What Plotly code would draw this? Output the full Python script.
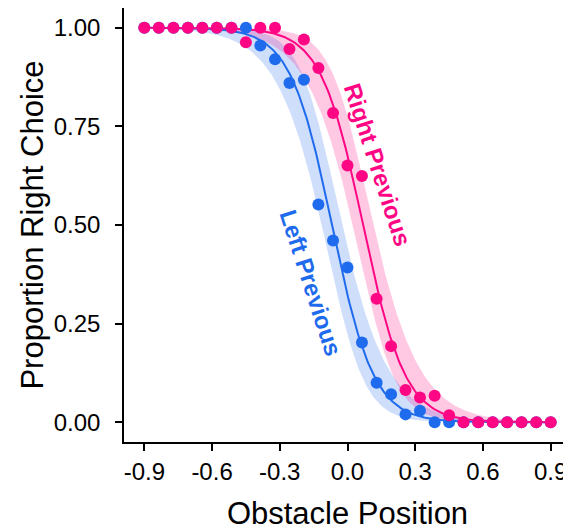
import numpy as np
import plotly.graph_objects as go

# ---- data ----
obstacle_x = [-0.900, -0.836, -0.771, -0.707, -0.643, -0.579, -0.514, -0.450,
              -0.386, -0.321, -0.257, -0.193, -0.129, -0.064, 0.000, 0.064,
              0.129, 0.193, 0.257, 0.321, 0.386, 0.450, 0.514, 0.579,
              0.643, 0.707, 0.771, 0.836, 0.900]
left_prev = [1.00, 1.00, 1.00, 1.00, 1.00, 1.00, 1.00, 1.00,
             0.955, 0.92, 0.86, 0.868, 0.552, 0.461, 0.392, 0.202,
             0.10, 0.071, 0.02, 0.029, 0.0, 0.0, 0.0, 0.0,
             0.0, 0.0, 0.0, 0.0, 0.0]
right_prev = [1.00, 1.00, 1.00, 1.00, 1.00, 1.00, 1.00, 0.963,
              1.00, 1.00, 0.946, 0.97, 0.898, 0.784, 0.651, 0.624,
              0.313, 0.193, 0.082, 0.063, 0.067, 0.018, 0.0, 0.0,
              0.0, 0.0, 0.0, 0.0, 0.0]
trials_per_point = 12
x_ticks = [-0.9, -0.6, -0.3, 0.0, 0.3, 0.6, 0.9]
x_tick_text = ["-0.9", "-0.6", "-0.3", "0.0", "0.3", "0.6", "0.9"]
y_ticks = [0.0, 0.25, 0.5, 0.75, 1.0]
y_tick_text = ["0.00", "0.25", "0.50", "0.75", "1.00"]

BLUE = "#1F6BEE"
PINK = "#FF0784"
BLUE_FILL = "rgba(31,107,238,0.22)"
PINK_FILL = "rgba(255,7,132,0.22)"


def sigmoid(v):
    return 1.0 / (1.0 + np.exp(-v))


def glm_logit(x, p, n):
    """Binomial GLM (logit link) fit by IRLS, with 95% CI on a grid."""
    x = np.asarray(x, float)
    p = np.asarray(p, float)
    X = np.column_stack([np.ones_like(x), x])
    b = np.zeros(2)
    for _ in range(100):
        eta = X @ b
        mu = np.clip(sigmoid(eta), 1e-9, 1 - 1e-9)
        w = n * mu * (1 - mu)
        z = eta + (p - mu) / (mu * (1 - mu))
        A = X.T @ (X * w[:, None])
        b_new = np.linalg.solve(A, X.T @ (w * z))
        if np.max(np.abs(b_new - b)) < 1e-10:
            b = b_new
            break
        b = b_new
    eta = X @ b
    mu = sigmoid(eta)
    w = n * mu * (1 - mu)
    cov = np.linalg.inv(X.T @ (X * w[:, None]))
    grid = np.linspace(min(x), max(x), 300)
    G = np.column_stack([np.ones_like(grid), grid])
    eg = G @ b
    se = np.sqrt(np.einsum("ij,jk,ik->i", G, cov, G))
    return grid, sigmoid(eg), sigmoid(eg - 1.96 * se), sigmoid(eg + 1.96 * se)


fig = go.Figure()

for vals, col, fill in [(left_prev, BLUE, BLUE_FILL), (right_prev, PINK, PINK_FILL)]:
    g, fit, lo, hi = glm_logit(obstacle_x, vals, trials_per_point)
    fig.add_trace(go.Scatter(x=np.concatenate([g, g[::-1]]),
                             y=np.concatenate([hi, lo[::-1]]),
                             fill="toself", fillcolor=fill, line=dict(width=0),
                             mode="lines", hoverinfo="skip", showlegend=False))
for vals, col in [(left_prev, BLUE), (right_prev, PINK)]:
    g, fit, lo, hi = glm_logit(obstacle_x, vals, trials_per_point)
    fig.add_trace(go.Scatter(x=g, y=fit, mode="lines",
                             line=dict(color=col, width=2), showlegend=False))
for vals, col in [(left_prev, BLUE), (right_prev, PINK)]:
    fig.add_trace(go.Scatter(x=obstacle_x, y=vals, mode="markers",
                             marker=dict(color=col, size=12), showlegend=False))

fig.add_annotation(x=-0.163, y=0.354, text="<b>Left Previous</b>", showarrow=False,
                   textangle=72, font=dict(family="Arial, Liberation Sans", size=24, color=BLUE))
fig.add_annotation(x=0.133, y=0.653, text="<b>Right Previous</b>", showarrow=False,
                   textangle=72, font=dict(family="Arial, Liberation Sans", size=24, color=PINK))

axis_common = dict(showgrid=False, zeroline=False, showline=True, linecolor="black",
                   linewidth=1.5, ticks="outside", ticklen=7, tickwidth=1.5,
                   tickcolor="black", tickfont=dict(size=24, color="black"),
                   automargin=False)
fig.update_xaxes(range=[-0.99, 0.99], tickvals=x_ticks, ticktext=x_tick_text,
                 ticklabelstandoff=0,
                 title=dict(text="Obstacle Position", font=dict(size=31, color="black"), standoff=22),
                 **axis_common)
fig.update_yaxes(range=[-0.05, 1.05], tickvals=y_ticks, ticktext=y_tick_text,
                 ticklabelstandoff=10,
                 title=dict(text="Proportion Right Choice", font=dict(size=31, color="black"), standoff=1),
                 **axis_common)
# the page body keeps an 8px browser margin, so the figure is 8px smaller
fig.update_layout(width=563, height=523, plot_bgcolor="white", paper_bgcolor="white",
                  font=dict(family="Arial, Liberation Sans"),
                  margin=dict(l=116, r=0, t=0, b=89))
fig.write_html("out.html")
